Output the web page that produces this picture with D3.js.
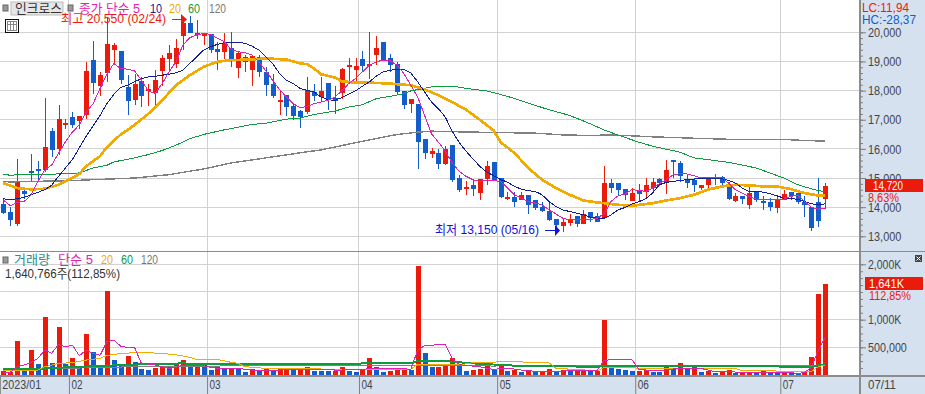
<!DOCTYPE html>
<html>
<head>
<meta charset="utf-8">
<script src="https://cdn.jsdelivr.net/npm/d3@7"></script>
<style>
	html, body {margin: 0; padding: 0; background: #fff; overflow: hidden;}
	text {font-family: "Liberation Sans", "Noto Sans CJK KR", sans-serif;}
	.axis path {display: none;}
	.axis line {stroke: #808080;}
	.axis text {fill: #444; font-size: 13px;}
</style>
</head>
<body>
<div id="chart"></div>
<script>
//price candles, values
const open = [14115,13840,13437,14563,15253,15322,15287,16600,16011,16815,17103,16954,17150,19050,18150,18600,19390,19356,18126,17666,
	18322,18035,17920,18667,19080,18908,19885,20310,19990,19900,19940,19425,19333,19448,18770,19138,18690,19160,18633,18218,
	17620,17840,17460,17300,17265,17942,17770,18264,17735,17908,18805,18700,19080,18838,19218,19666,19115,18908,17977,17527,
	17527,16345,15830,15860,15490,16150,15000,14680,14770,14495,14977,15563,15000,14290,14345,14230,14413,14250,14000,13875,
	13600,13356,13473,13690,13426,13840,13700,13645,14827,14827,14620,14218,14600,14528,14643,14965,14827,15630,15528,14940,
	14940,14655,14758,14990,15034,14770,14218,14390,14090,14528,14218,14184,13954,14230,14528,14494,14184,14000,14184,14265];
const high = [14310,14010,15667,14700,15840,15586,17760,16700,17495,17034,17264,17115,18990,19713,18644,20500,19620,19356,18530,18563,
	18470,18218,18700,19218,19563,19770,20425,20550,20425,19940,19940,19680,19965,20020,19320,19220,19220,19220,18816,18580,
	18035,17840,17550,17350,18450,18218,18460,18264,18150,18792,19126,19126,19356,20010,19885,19666,19253,18990,17977,17700,
	17527,16345,16030,16000,16100,16150,15115,14885,14965,14977,15600,15563,15000,14505,14505,14505,14413,14250,14160,14190,
	13600,13600,13770,13690,13908,13840,13790,15425,14977,14827,14620,14655,14793,15000,15000,15000,15630,15630,15586,15126,
	15000,14770,15020,15150,15080,14850,14480,14390,14713,14528,14400,14310,14368,14600,14528,14600,14400,14000,15000,14840];
const low = [13770,13368,13368,14290,14862,14920,15207,15735,15800,16680,16724,16690,17034,17870,17800,18300,18930,18220,17170,17500,
	17440,17460,17460,18150,18644,18760,19390,19977,19760,19560,19300,18700,19070,18815,18435,18650,18150,18450,17810,17760,
	17150,17115,17000,16713,17200,17630,17600,17320,17180,17700,18218,18300,18640,18413,18885,19023,18640,17840,17360,17230,
	15300,15660,15700,15320,15450,14850,14505,14425,14390,14250,14750,14885,14320,14250,13990,14230,13750,13900,13825,13530,
	13265,13150,13356,13333,13426,13505,13505,13645,14480,14425,14250,14218,14195,14310,14540,14710,14460,15000,14850,14655,
	14505,14600,14620,14758,14710,14230,14185,14115,13940,14160,13908,13885,13816,14230,14230,14115,13655,13195,13333,13930];
const close = [13816,13563,14908,14460,15195,15230,16080,15977,17011,16884,16805,17115,18667,18265,18529,19600,19563,18380,17632,18218,
	17805,18070,18356,19115,19287,19460,20310,19977,19965,19940,19390,19333,19640,19090,19275,18977,19184,18645,18195,17805,
	17666,17437,17140,17090,18010,17805,18000,17665,17645,18736,18873,18838,18838,18908,19460,19023,18873,17942,17494,17700,
	16250,15875,15920,15490,16010,14920,14575,14690,14640,14977,15425,14943,14356,14345,14185,14425,14090,13965,13875,13565,
	13380,13495,13588,13426,13770,13645,13505,14828,14655,14575,14425,14494,14460,14770,14875,14840,15276,15570,15057,14840,
	14758,14770,15010,15034,14827,14287,14390,14264,14494,14253,14172,14010,14276,14460,14390,14184,14080,13275,13540,14720];

//price moving averages
const ma5 = [14245,14050,14165,14190,14416,14873,15275,15446,15847,16245,16578,16820,17263,17550,18068,18560,18930,18758,18735,18680,
	18355,17990,17900,18240,18643,18990,19560,19815,19910,19965,19930,19793,19680,19413,19333,19300,19218,18990,18680,18355,
	18035,17780,17550,17413,17458,17550,17608,17665,17780,17988,18240,18413,18643,18873,18988,19045,19023,18873,18586,18183,
	17780,17148,16515,16228,15920,15517,15230,15057,14942,14885,14920,14908,14885,14655,14425,14310,14195,14137,14080,13908,
	13770,13620,13562,13562,13585,13585,13608,13790,14195,14390,14450,14600,14575,14540,14643,14805,14942,15115,15150,15138,
	15080,15000,15023,15023,15034,14827,14597,14482,14367,14275,14252,14252,14252,14275,14367,14413,14195,14000,13930,13965];
const ma10 = [14290,14250,14290,14333,14425,14506,14600,14750,15058,15345,15633,16035,16438,16783,17148,17550,17872,18103,18183,18298,
	18413,18470,18493,18528,18562,18608,18700,18930,19160,19390,19505,19586,19643,19655,19655,19620,19528,19390,19160,18930,
	18585,18355,18240,18068,18010,17953,17780,17688,17665,17758,17873,17988,18150,18300,18493,18643,18700,18723,18723,18608,
	18300,17953,17608,17378,17090,16600,16220,15920,15655,15400,15207,15080,14942,14862,14712,14620,14563,14540,14425,14195,
	14022,13908,13850,13793,13735,13655,13620,13620,13735,13908,13988,14103,14184,14287,14482,14770,14850,14885,14920,14942,
	14965,14977,14977,14977,14977,14920,14827,14655,14540,14540,14517,14460,14390,14310,14287,14275,14195,14115,14080,14115];
const ma20At = [0,1,2,4,6,8,10,11,12,14,15,17,18,19,21,23,25,27,29,31,33,36,38,41,43,44,45,46,48,49,51,54,56,59,61,63,65,67,69,71,72,74,76,78,80,82,84,86,87,89,91,94,96,98,100,102,104,106,108,110,112,114,116,118,119];
const ma20 = [14828,14740,14655,14610,14630,14770,15000,15138,15403,15750,16058,16495,16650,16820,17205,17665,18183,18528,18815,18990,19045,19068,19103,19068,18930,18907,18758,18560,18450,18320,18275,18264,18240,18183,18045,17838,17608,17343,17000,16630,16228,15862,15345,14942,14655,14425,14230,14160,14137,14080,14045,14137,14230,14310,14425,14597,14712,14770,14747,14712,14712,14620,14482,14400,14400];
const ma60At = [0,1,2,4,7,8,11,13,15,16,19,21,23,25,27,29,32,36,38,41,43,45,48,50,52,54,56,58,59,62,65,68,70,73,76,79,82,85,87,89,92,94,98,100,105,109,113,115,118,119];
const ma60 = [15138,15092,15115,15115,15115,15150,15173,15345,15437,15552,15690,15805,15943,16127,16346,16495,16653,16837,16880,17020,17056,17182,17297,17435,17516,17723,17803,17895,17988,18126,18150,18045,17988,17803,17573,17343,17148,16860,16650,16475,16230,16092,15885,15690,15540,15345,15000,14770,14563,14540];
const ma120At = [0,1,4,9,13,19,24,29,33,38,44,46,49,53,55,57,60,62,66,71,77,81,85,88,92,94,101,106,113,116,119];
const ma120 = [14885,14862,14885,14900,14943,15000,15115,15310,15518,15690,15900,15963,16113,16308,16400,16492,16573,16608,16585,16562,16540,16480,16458,16480,16437,16414,16357,16322,16322,16288,16265];

//volume bars in thousands, volUp 1 = red bar, 0 = blue bar
const volume = [72,60,612,78,450,198,1044,216,864,198,306,162,738,414,180,1512,270,180,342,234,
	108,90,126,150,138,198,270,162,162,180,90,138,108,114,114,54,102,78,102,78,
	108,108,90,114,138,72,72,78,78,150,78,54,90,306,138,54,78,102,126,90,
	1962,396,144,144,168,306,180,72,90,108,168,90,168,72,90,54,78,60,66,108,
	66,90,78,102,90,72,78,990,132,108,90,72,78,90,60,60,138,102,216,108,
	138,54,78,36,66,90,36,48,48,48,78,48,48,48,48,30,66,324,1458,1638];
const volUp = [1,1,1,0,1,0,1,0,1,0,1,0,1,0,0,1,0,0,1,0,
	0,0,1,1,0,1,1,0,1,0,0,1,0,1,0,0,1,0,1,0,
	1,1,0,1,1,0,0,0,1,1,0,0,1,1,0,0,1,1,1,0,
	1,0,0,1,1,1,0,0,1,1,1,0,1,0,1,0,1,0,1,1,
	0,1,0,1,1,0,1,1,0,0,0,0,1,1,0,0,1,0,1,0,
	1,0,1,0,1,1,0,1,1,0,1,0,0,1,0,0,1,1,1,1];

//volume moving averages
const volMa5 = [48,48,150,180,222,300,450,390,552,510,540,348,450,390,354,600,630,522,498,498,
	210,198,180,150,120,138,180,168,168,168,138,120,120,120,120,102,90,78,78,90,
	90,102,102,108,108,108,102,96,90,90,96,96,96,120,126,126,120,120,114,102,
	450,528,540,546,552,300,192,168,162,150,120,102,114,120,108,90,78,66,60,60,
	60,72,78,90,90,90,90,258,282,282,282,282,102,90,78,78,90,108,120,120,
	120,120,90,60,60,60,54,48,48,48,48,48,48,48,48,24,48,138,450,678];
const volMa20At = [0,3,5,6,8,10,12,14,15,17,20,23,25,27,28,31,33,34,35,38,44,47,59,60,65,66,68,71,72,79,80,86,87,89,91,92,95,106,107,117,118,119];
const volMa20 = [72,90,90,150,210,222,270,300,354,390,408,390,366,318,282,282,228,210,150,120,120,102,102,198,198,180,222,228,246,222,120,78,138,138,138,120,120,120,78,66,150,180];
const volMa60At = [0,4,9,15,20,26,30,44,53,59,60,64,65,68,75,86,87,89,112,113,117,118,119];
const volMa60 = [102,102,138,168,192,210,192,192,210,210,252,252,240,210,162,150,168,168,162,138,138,180,192];
const volMa120At = [0,9,19,30,44,59,71,82,89,112,118,119];
const volMa120 = [102,120,150,162,168,180,162,180,162,180,180,198];

//tick labels
const priceTicks = [13000,14000,15000,16000,17000,18000,19000,20000];
const priceMinor = d3.range(13000,20001,200);
const volTicks = [500,1000,2000];
const volTickLabels = {500: '500,000', 1000: '1,000K', 2000: '2,000K'};
const volGrid = [500,1000,1500,2000];
const volMinor = d3.range(125,2001,125);
const monthStarts = [0,10,30,52,72,92,113];
const monthLabels = ['2023/01','02','03','04','05','06','07'];
const lastDateLabel = '07/11';

const red = '#EA1B0A', blue = '#125CCB', panelBg = '#D6E1F0', gridCol = '#D2D2D2';
const magenta = '#DE22B4', navy = '#10209A', gold = '#F0AA00', green = '#0E9A3E', grey = '#808080';

const width = 925, height = 394, plotRight = 860;
const charW = 5.55;

const x = d3.scaleLinear().domain([0,119]).range([3.3,825.2]);
const y = d3.scaleLinear().domain([13000,20000]).range([236.3,32.3]);
const yVol = d3.scaleLinear().domain([0,2000]).range([375,264.3]);

let svg = d3.select('#chart').append('svg')
	.attr('width', width)
	.attr('height', height)
	.style('display', 'block');

//axis panels behind everything
svg.append('rect').attr('x', plotRight).attr('y', 0).attr('width', width-plotRight).attr('height', height).attr('fill', panelBg);
svg.append('rect').attr('x', 0).attr('y', 376).attr('width', width).attr('height', 18).attr('fill', panelBg);

//grid
let grid = svg.append('g').attr('shape-rendering', 'crispEdges').attr('stroke', gridCol);
grid.selectAll('.hp').data(priceTicks).join('line')
	.attr('x1', 0).attr('x2', plotRight)
	.attr('y1', d => y(d)).attr('y2', d => y(d));
grid.selectAll('.hv').data(volGrid).join('line')
	.attr('x1', 0).attr('x2', plotRight)
	.attr('y1', d => yVol(d)).attr('y2', d => yVol(d));
grid.selectAll('.v').data(monthStarts.slice(1)).join('line')
	.attr('x1', d => x(d-.5)).attr('x2', d => x(d-.5))
	.attr('y1', 0).attr('y2', 376);

//candles
let candle = svg.append('g').attr('shape-rendering', 'crispEdges')
	.selectAll('g').data(open).join('g')
	.attr('fill', (d,i) => close[i] >= d ? red : blue)
	.attr('stroke', (d,i) => close[i] >= d ? red : blue);
candle.append('line')
	.attr('x1', (d,i) => Math.round(x(i))+.5).attr('x2', (d,i) => Math.round(x(i))+.5)
	.attr('y1', (d,i) => y(high[i])).attr('y2', (d,i) => y(low[i]));
candle.append('rect')
	.attr('stroke', 'none')
	.attr('x', (d,i) => Math.round(x(i))-2)
	.attr('width', 5)
	.attr('y', (d,i) => y(Math.max(d, close[i])))
	.attr('height', (d,i) => Math.max(2, Math.abs(y(d)-y(close[i]))));

//volume bars
svg.append('g').attr('shape-rendering', 'crispEdges')
	.selectAll('rect').data(volume).join('rect')
	.attr('x', (d,i) => Math.round(x(i))-2)
	.attr('width', 5)
	.attr('y', d => yVol(d))
	.attr('height', d => yVol(0)-yVol(d))
	.attr('fill', (d,i) => volUp[i] ? red : blue);

function drawLine(xs, vals, scale, col, w){
	let line = d3.line().x((d,i) => x(xs[i])).y(d => scale(d));
	svg.append('path').datum(vals)
		.attr('d', line)
		.attr('fill', 'none')
		.attr('stroke', col)
		.attr('stroke-width', w)
		.attr('shape-rendering', 'crispEdges');
}
const allIdx = d3.range(120);
drawLine(ma120At, ma120, y, grey, 1.4);
drawLine(ma60At, ma60, y, green, 1);
drawLine(ma20At, ma20, y, gold, 2.7);
drawLine(allIdx, ma10, y, navy, 1);
drawLine(allIdx, ma5, y, magenta, 1);

drawLine(volMa120At, volMa120, yVol, grey, 1);
drawLine(volMa60At, volMa60, yVol, green, 2);
drawLine(volMa20At, volMa20, yVol, gold, 1);
drawLine(allIdx, volMa5, yVol, magenta, 1);

//frame
let frame = svg.append('g').attr('shape-rendering', 'crispEdges').attr('stroke', '#8C8C8C');
frame.append('line').attr('x1', 0).attr('x2', width).attr('y1', 251.5).attr('y2', 251.5).attr('stroke-width', 1);
frame.append('line').attr('x1', 0).attr('x2', width).attr('y1', 376).attr('y2', 376).attr('stroke-width', 2);
frame.append('line').attr('x1', plotRight).attr('x2', plotRight).attr('y1', 0).attr('y2', height).attr('stroke-width', 2);

//axes
function fitText(sel){
	sel.selectAll('text')
		.attr('textLength', function(){ return this.textContent.length*charW; })
		.attr('lengthAdjust', 'spacingAndGlyphs');
}
svg.append('g').attr('class', 'axis').attr('transform', `translate(${plotRight},0)`)
	.call(d3.axisRight(y).tickValues(priceMinor).tickSize(3).tickFormat(''));
svg.append('g').attr('class', 'axis').attr('transform', `translate(${plotRight},0)`)
	.call(d3.axisRight(y).tickValues(priceTicks).tickSize(6).tickPadding(2).tickFormat(d3.format(',')))
	.call(fitText);
svg.append('g').attr('class', 'axis').attr('transform', `translate(${plotRight},0)`)
	.call(d3.axisRight(yVol).tickValues(volMinor).tickSize(3).tickFormat(''));
svg.append('g').attr('class', 'axis').attr('transform', `translate(${plotRight},0)`)
	.call(d3.axisRight(yVol).tickValues(volTicks).tickSize(6).tickPadding(2).tickFormat(d => volTickLabels[d]))
	.call(fitText);
svg.append('g').attr('class', 'axis').attr('transform', 'translate(0,376)')
	.call(d3.axisBottom(x).tickValues(monthStarts.map(d => d-.5)).tickSize(18).tickFormat((d,i) => monthLabels[i]))
	.call(fitText)
	.selectAll('text').attr('text-anchor', 'start').attr('x', 2).attr('y', 13).attr('dy', 0);

function label(str, px, py, col, w, size){
	return svg.append('text')
		.attr('x', px).attr('y', py)
		.attr('fill', col)
		.attr('font-size', (size || 13)+'px')
		.attr('textLength', w)
		.attr('lengthAdjust', 'spacingAndGlyphs')
		.text(str);
}

label(lastDateLabel, 868, 389, '#444', 28);

//header
svg.append('rect').attr('x', 3).attr('y', 5).attr('width', 5).attr('height', 6).attr('fill', '#999').attr('stroke', '#666');
svg.append('rect').attr('x', 11).attr('y', 2).attr('width', 52).attr('height', 13).attr('fill', '#E6E6E6').attr('stroke', '#BBB');
svg.append('rect').attr('x', 68).attr('y', 5).attr('width', 5).attr('height', 6).attr('fill', '#999').attr('stroke', '#666');
label('인크로스', 15, 13, '#333', 47);
label('종가 단순 5', 79, 13, magenta, 61);
label('10', 150, 13, navy, 12);
label('20', 169, 13, gold, 12);
label('60', 188, 13, green, 12);
label('120', 209, 13, '#777', 17);

//small table icon
let icon = svg.append('g').attr('shape-rendering', 'crispEdges').attr('fill', 'none');
icon.append('rect').attr('x', 5.5).attr('y', 19.5).attr('width', 13).attr('height', 13).attr('stroke', '#111');
icon.append('rect').attr('x', 7.5).attr('y', 21.5).attr('width', 9).attr('height', 9).attr('stroke', '#888');
icon.append('path').attr('d', 'M10.5 22V30M13.5 22V30M8 24.5H16').attr('stroke', '#888');

//high / low notes
label('최고 20,550 (02/24)', 61, 23, red, 105);
svg.append('path').attr('d', 'M172 19.5H182').attr('stroke', red).attr('stroke-width', 1).attr('shape-rendering', 'crispEdges');
svg.append('path').attr('d', 'M181 14L187 19.5L181 25Z').attr('fill', red);
label('최저 13,150 (05/16)', 435, 234, '#1010E0', 104);
svg.append('path').attr('d', 'M545 230.5H556').attr('stroke', '#1010E0').attr('stroke-width', 1).attr('shape-rendering', 'crispEdges');
svg.append('path').attr('d', 'M555 225L560 230.5L555 236Z').attr('fill', '#1010E0');

//right side readouts
label('LC:11,94', 862, 12, red, 47);
label('HC:-28,37', 862, 24, blue, 54);
svg.append('rect').attr('x', 865).attr('y', 179).attr('width', 58).attr('height', 13).attr('fill', red);
label('14,720', 873, 190, '#fff', 30);
label('8,63%', 868, 202, red, 31);
svg.append('rect').attr('x', 865).attr('y', 277).attr('width', 58).attr('height', 13).attr('fill', red);
label('1,641K', 869, 288, '#fff', 35);
label('112,85%', 869, 300, red, 42);

//volume legend
svg.append('rect').attr('x', 3).attr('y', 257).attr('width', 5).attr('height', 6).attr('fill', '#999').attr('stroke', '#666');
label('거래량', 14, 264, '#2A8C8C', 36);
label('단순 5', 58, 264, magenta, 35);
label('20', 101, 264, gold, 12);
label('60', 121, 264, green, 12);
label('120', 141, 264, '#777', 17);
label('1,640,766주(112,85%)', 5, 278, '#333', 115);

//expand icon
svg.append('rect').attr('x', 915).attr('y', 255).attr('width', 7).attr('height', 7).attr('fill', '#444');
svg.append('path').attr('d', 'M916.5 256.5L920.5 260.5M920.5 256.5L916.5 260.5').attr('stroke', '#fff').attr('stroke-width', 1);
</script>
</body>
</html>
